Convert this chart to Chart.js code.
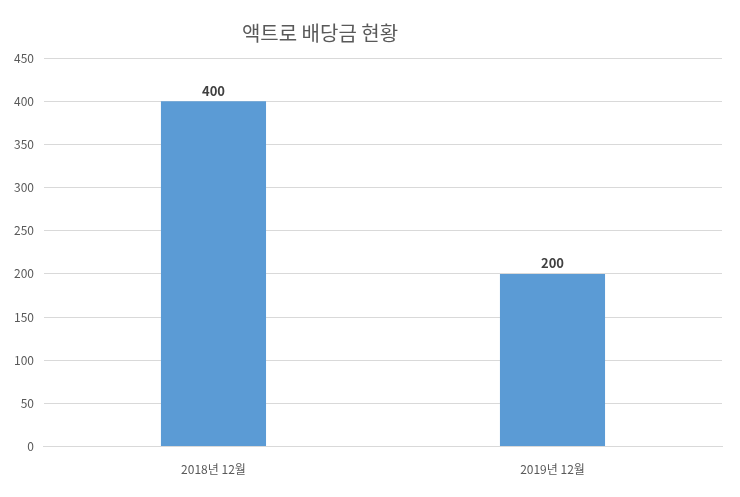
<!DOCTYPE html>
<html>
<head>
<meta charset="utf-8">
<script src="https://cdn.jsdelivr.net/npm/chart.js@4"></script>
<style>
  html, body { margin: 0; padding: 0; background: #fff; }
  #wrap { width: 740px; height: 497px; }
</style>
</head>
<body>
<div id="wrap"><canvas id="c"></canvas></div>
<script>
const categories = ['2018년 12월', '2019년 12월'];
const dividends = [400, 200];
const titleText = '액트로 배당금 현황';

const FONT = '"Noto Sans CJK KR", "Noto Sans", sans-serif';

// title sits left of center in the original, so draw it by hand
const titlePlugin = {
  id: 'titleText',
  afterDraw(chart) {
    const ctx = chart.ctx;
    ctx.save();
    ctx.font = '20px ' + FONT;
    ctx.fillStyle = '#595959';
    ctx.textAlign = 'center';
    ctx.textBaseline = 'middle';
    ctx.fillText(titleText, 320, 33);
    ctx.restore();
  }
};

const valueLabels = {
  id: 'valueLabels',
  afterDatasetsDraw(chart) {
    const ctx = chart.ctx;
    const meta = chart.getDatasetMeta(0);
    ctx.save();
    ctx.font = 'bold 13px ' + FONT;
    ctx.fillStyle = '#404040';
    ctx.textAlign = 'center';
    ctx.textBaseline = 'bottom';
    meta.data.forEach((bar, i) => {
      ctx.fillText(dividends[i], bar.x, bar.y - 4);
    });
    ctx.restore();
  }
};

new Chart(document.getElementById('c'), {
  type: 'bar',
  data: {
    labels: categories,
    datasets: [{
      data: dividends,
      backgroundColor: '#5b9bd5',
      barPercentage: 0.31,
      categoryPercentage: 1,
    }],
  },
  options: {
    responsive: true,
    maintainAspectRatio: false,
    animation: false,
    layout: { padding: { top: 58, right: 18, left: 4, bottom: 12 } },
    plugins: { legend: { display: false }, tooltip: { enabled: false } },
    scales: {
      x: {
        grid: { display: false },
        border: { color: '#d9d9d9' },
        ticks: { font: { size: 12, family: FONT }, color: '#595959', padding: 8 },
      },
      y: {
        min: 0, max: 450,
        ticks: { stepSize: 50, font: { size: 12, family: FONT }, color: '#595959', padding: 10 },
        grid: { color: '#d9d9d9', drawTicks: false },
        border: { display: false },
      },
    },
  },
  plugins: [titlePlugin, valueLabels],
});
</script>
</body>
</html>
